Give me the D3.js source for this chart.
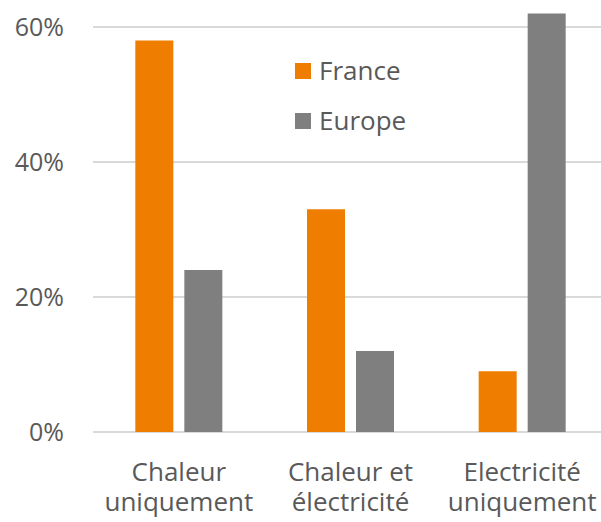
<!DOCTYPE html>
<html>
<head>
  <meta charset="utf-8">
  <script src="https://d3js.org/d3.v7.min.js"></script>
  <style>
    body { margin: 0; background: #fff; }
    text { font-family: "Open Sans", sans-serif; fill: #595959; }
  </style>
</head>
<body>
<div id="chart"></div>
<script>
  // Data
  const categories = [["Chaleur", "uniquement"], ["Chaleur et", "électricité"], ["Electricité", "uniquement"]];
  const series = ["France", "Europe"];
  const france = [58, 33, 9];
  const europe = [24, 12, 62];
  const yTicks = [0, 20, 40, 60];
  const colors = { France: "#EE7D00", Europe: "#7F7F7F" };

  const width = 601, height = 522;
  const plotLeft = 93, plotRight = 608, plotTop = 27, plotBottom = 432;

  const svg = d3.select("#chart").append("svg")
    .attr("width", width)
    .attr("height", height);

  const y = d3.scaleLinear().domain([0, 60]).range([plotBottom, plotTop]);
  const x0 = d3.scaleBand().domain(d3.range(categories.length)).range([plotLeft, plotRight]);
  const groupW = 87;
  const x1 = d3.scaleBand().domain(series).range([0, groupW]).paddingInner(0.2245);

  // gridlines
  svg.append("g").selectAll("line")
    .data(yTicks)
    .enter().append("line")
    .attr("x1", plotLeft).attr("x2", width)
    .attr("y1", d => y(d)).attr("y2", d => y(d))
    .attr("stroke", "#D9D9D9")
    .attr("stroke-width", 2);

  // y labels
  svg.append("g").selectAll("text")
    .data(yTicks)
    .enter().append("text")
    .attr("x", 64)
    .attr("y", d => y(d))
    .attr("dy", "0.35em")
    .attr("text-anchor", "end")
    .style("font-size", "25px")
    .text(d => d + "%");

  // bars
  const rows = categories.map((c, i) => ({ i, France: france[i], Europe: europe[i] }));
  const groups = svg.append("g").selectAll("g")
    .data(rows)
    .enter().append("g")
    .attr("transform", d => "translate(" + (x0(d.i) + (x0.bandwidth() - groupW) / 2) + ",0)");
  groups.selectAll("rect")
    .data(d => series.map(s => ({ s, v: d[s] })))
    .enter().append("rect")
    .attr("x", d => x1(d.s))
    .attr("width", x1.bandwidth())
    .attr("y", d => y(d.v))
    .attr("height", d => plotBottom - y(d.v))
    .attr("fill", d => colors[d.s]);

  // x labels (two lines each)
  const xl = svg.append("g").selectAll("text")
    .data(categories)
    .enter().append("text")
    .attr("text-anchor", "middle")
    .style("font-size", "26px")
    .attr("transform", (d, i) => "translate(" + (x0(i) + x0.bandwidth() / 2) + ",481)");
  xl.selectAll("tspan")
    .data(d => d)
    .enter().append("tspan")
    .attr("x", 0)
    .attr("y", (d, j) => j * 30)
    .text(d => d);

  // legend
  const lg = svg.append("g").selectAll("g")
    .data(series)
    .enter().append("g")
    .attr("transform", (d, i) => "translate(295," + (71 + i * 50) + ")");
  lg.append("rect")
    .attr("x", 0).attr("y", -8)
    .attr("width", 16).attr("height", 16)
    .attr("fill", d => colors[d]);
  lg.append("text")
    .attr("x", 24)
    .attr("dy", "0.35em")
    .style("font-size", "26px")
    .text(d => d);
</script>
</body>
</html>
